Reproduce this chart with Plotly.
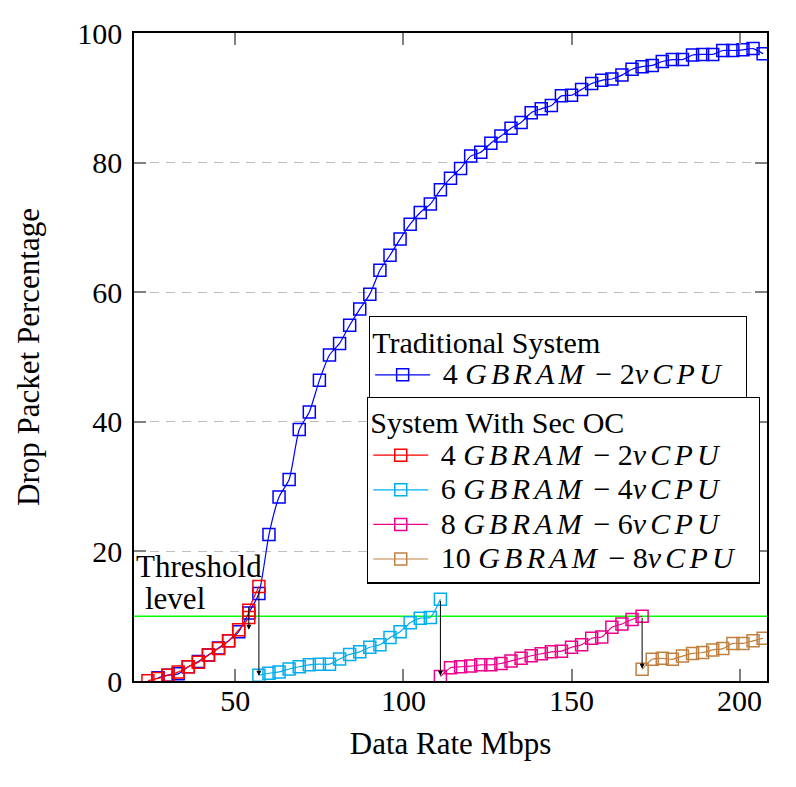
import plotly.graph_objects as go

# ---------------- data ----------------
trad_x = [27, 30, 33, 36, 39, 42, 45, 48, 51, 54, 57, 60, 63, 66, 69, 72, 75, 78, 81, 84,
          87, 90, 93, 96, 99, 102, 105, 108, 111, 114, 117, 120, 123, 126, 129, 132, 135,
          138, 141, 144, 147, 150, 153, 156, 159, 162, 165, 168, 171, 174, 177, 180, 183,
          186, 189, 192, 195, 198, 201, 204, 207]
trad_y = [0.5, 0.9, 1.1, 2.2, 3.0, 4.0, 5.1, 6.2, 7.6, 10.5, 13.5, 22.6, 28.4, 31.1, 38.8,
          41.5, 46.4, 50.3, 52.1, 54.9, 57.4, 59.7, 63.4, 65.7, 68.2, 70.5, 72.3, 73.6, 75.8,
          77.6, 79.1, 81.0, 81.6, 83.0, 84.1, 85.3, 86.2, 87.7, 88.3, 88.8, 90.3, 90.4, 91.3,
          92.2, 92.7, 92.9, 93.5, 94.4, 94.8, 95.0, 95.6, 95.9, 95.9, 96.6, 96.7, 96.7, 97.3,
          97.3, 97.4, 97.6, 96.8]

sec4_x = [24, 27, 30, 33, 36, 39, 42, 45, 48, 51, 54, 54, 57]
sec4_y = [0.05, 0.4, 0.9, 1.4, 2.2, 2.9, 4.0, 5.0, 6.2, 7.9, 9.8, 10.9, 14.6]

sec6_x = [57, 60, 63, 66, 69, 72, 75, 78, 81, 84, 87, 90, 93, 96, 99, 102, 105, 108, 111]
sec6_y = [0.9, 1.2, 1.4, 1.85, 2.2, 2.5, 2.6, 2.6, 3.4, 4.1, 4.5, 5.2, 5.6, 6.7, 7.6, 9.0,
          9.7, 9.8, 12.6]

sec8_x = [111, 114, 117, 120, 123, 126, 129, 132, 135, 138, 141, 144, 147, 150, 153, 156,
          159, 162, 165, 168, 171]
sec8_y = [0.7, 2.05, 2.2, 2.3, 2.5, 2.5, 2.7, 3.1, 3.5, 3.9, 4.2, 4.5, 4.6, 5.2, 5.6, 6.6,
          6.8, 8.3, 8.8, 9.5, 10.0]

sec10_x = [171, 174, 177, 180, 183, 186, 189, 192, 195, 198, 201, 204, 207]
sec10_y = [1.8, 3.35, 3.5, 3.35, 3.85, 4.25, 4.4, 4.8, 5.0, 5.8, 5.8, 6.2, 6.6]

threshold = 10

# arrows: (x, y_from, y_to)
arrows = [(54, 11.7, 7.9), (57, 14.2, 0.8), (111, 12.6, 0.8), (171, 10.0, 1.9)]

FONT = "Liberation Serif"
FS = 31          # axis / annotation text size
LFS = 30         # visible legend text size
LEG_FS = 24.3    # legend row-height driver
TITLE_FS = 27    # legend title row-height driver
NB = "\u00a0"


def big(s):
    return "<span style='font-size:%dpx'>%s</span>" % (LFS, s)


def it(s):
    return "<i><span style='letter-spacing:4.2px'>%s</span></i>" % s


def entry(n, c, pad):
    return big(" " + n + " " + it("GBRAM") + " \u2212 " + c + it("vCPU") + NB * pad)


legend_names = [entry("4", "2", 2), entry("4", "2", 2), entry("6", "4", 2),
                entry("8", "6", 2), entry("10", "8", 2)]

fig = go.Figure()


def add(x, y, color, name, legend):
    fig.add_trace(go.Scatter(
        x=x, y=y, mode="lines+markers", name=name, legend=legend,
        line=dict(color=color, width=1.2, shape="spline", smoothing=0.6),
        marker=dict(symbol="square-open", size=12, color=color, line=dict(width=1.5, color=color)),
    ))


add(trad_x, trad_y, "#0000ff", legend_names[0], "legend")
add(sec4_x, sec4_y, "#ff0000", legend_names[1], "legend2")
add(sec6_x, sec6_y, "#00aeef", legend_names[2], "legend2")
add(sec8_x, sec8_y, "#ec008c", legend_names[3], "legend2")
add(sec10_x, sec10_y, "#bf8040", legend_names[4], "legend2")

# threshold line
fig.add_shape(type="line", xref="paper", x0=0, x1=1, yref="y", y0=threshold, y1=threshold,
              line=dict(color="#00ff00", width=1.5), layer="below")

for ax_x, y0, y1 in arrows:
    fig.add_annotation(x=ax_x, y=y1, ax=ax_x, ay=y0, xref="x", yref="y", axref="x", ayref="y",
                       text="", showarrow=True, arrowhead=2, arrowsize=1, arrowwidth=1,
                       arrowcolor="black")

fig.add_annotation(text="Threshold", xref="paper", yref="y", x=0.0, y=17.7,
                   xanchor="left", yanchor="middle", align="left", showarrow=False,
                   font=dict(family=FONT, size=FS, color="black"))
fig.add_annotation(text="level", xref="paper", yref="y", x=0.014, y=12.8,
                   xanchor="left", yanchor="middle", align="left", showarrow=False,
                   font=dict(family=FONT, size=FS, color="black"))

legend_common = dict(
    bgcolor="white", bordercolor="black", borderwidth=1.3,
    font=dict(family=FONT, size=LEG_FS, color="black"),
    xanchor="left", yanchor="top", itemwidth=55, tracegroupgap=0,
)

fig.update_layout(
    width=788, height=779,
    margin=dict(l=126, r=29, t=25, b=106),
    plot_bgcolor="white", paper_bgcolor="white",
    font=dict(family=FONT, size=FS, color="black"),
    showlegend=True,
    legend=dict(**legend_common, x=0.371, y=0.563,
                title=dict(text=big("Traditional System"), font=dict(family=FONT, size=TITLE_FS))),
    legend2=dict(**legend_common, x=0.368, y=0.439,
                 title=dict(text=big("System With Sec OC"), font=dict(family=FONT, size=TITLE_FS))),
    xaxis=dict(
        range=[19.85, 208.15], tickvals=[50, 100, 150, 200], ticks="inside", ticklen=12,
        tickcolor="#808080", tickwidth=1.5, showline=True, linecolor="black", linewidth=1.5,
        mirror="ticks", showgrid=False, zeroline=False, ticklabelstandoff=-8, automargin=False,
        title=dict(text="Data Rate Mbps", font=dict(family=FONT, size=FS), standoff=17),
        tickfont=dict(family=FONT, size=30),
    ),
    yaxis=dict(
        range=[0, 100], tickvals=[0, 20, 40, 60, 80, 100], ticks="inside", ticklen=12,
        tickcolor="#808080", tickwidth=1.5, showline=True, linecolor="black", linewidth=1.5,
        mirror="ticks", showgrid=True, gridcolor="#bdbdbd", gridwidth=1, griddash="9px,7px",
        zeroline=False, ticklabelstandoff=4, automargin=False,
        title=dict(text="Drop Packet Percentage", font=dict(family=FONT, size=FS), standoff=28),
        tickfont=dict(family=FONT, size=30),
    ),
)

fig.write_html("out.html")
